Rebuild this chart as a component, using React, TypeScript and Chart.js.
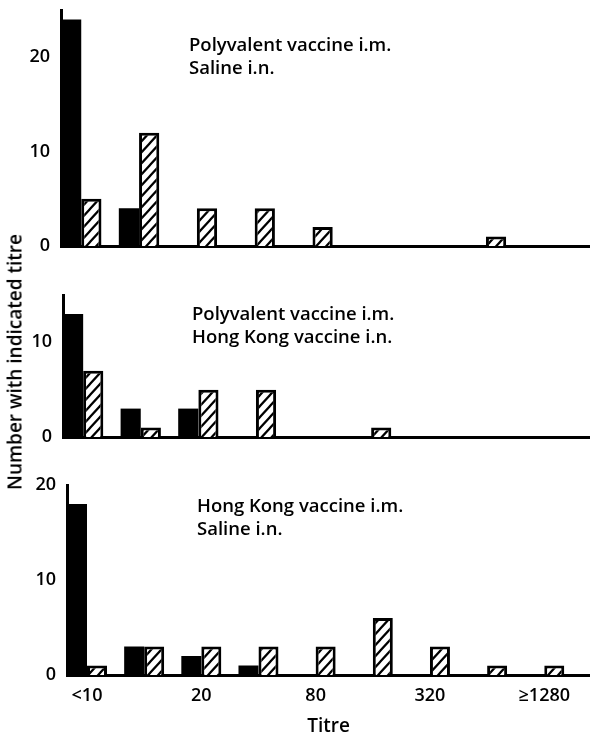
import React, { useEffect, useRef } from "react";
import { Chart, registerables } from "chart.js";

Chart.register(...registerables);

// ---- data ----
const titres = ["<10", "10", "20", "40", "80", "160", "320", "640", "≥1280"];
const shownTickLabels = ["<10", "20", "80", "320", "≥1280"];

const panel1Title = ["Polyvalent vaccine i.m.", "Saline i.n."];
const panel1Solid = [24, 4, 0, 0, 0, 0, 0, 0, 0];
const panel1Hatched = [5, 12, 4, 4, 2, 0, 0, 1, 0];
const panel1YTicks = [0, 10, 20];
const panel1YMax = 25;

const panel2Title = ["Polyvalent vaccine i.m.", "Hong Kong vaccine i.n."];
const panel2Solid = [13, 3, 3, 0, 0, 0, 0, 0, 0];
const panel2Hatched = [7, 1, 5, 5, 0, 1, 0, 0, 0];
const panel2YTicks = [0, 10];
const panel2YMax = 15;

const panel3Title = ["Hong Kong vaccine i.m.", "Saline i.n."];
const panel3Solid = [18, 3, 2, 1, 0, 0, 0, 0, 0];
const panel3Hatched = [1, 3, 3, 3, 3, 6, 3, 1, 1];
const panel3YTicks = [0, 10, 20];
const panel3YMax = 20;

const yAxisTitle = "Number with indicated titre";
const xAxisTitle = "Titre";

const FONT_FAMILY = "'Open Sans', 'DejaVu Sans', sans-serif";

function makeHatch(): CanvasPattern | string {
  const w = 10;
  const h = 11;
  const c = document.createElement("canvas");
  c.width = w;
  c.height = h;
  const ctx = c.getContext("2d");
  if (!ctx) return "#fff";
  ctx.fillStyle = "#fff";
  ctx.fillRect(0, 0, w, h);
  ctx.strokeStyle = "#000";
  ctx.lineWidth = 2.2;
  ctx.beginPath();
  ctx.moveTo(-w, h * 2);
  ctx.lineTo(w * 2, -h);
  ctx.moveTo(-w * 2, h * 2);
  ctx.lineTo(w, -h);
  ctx.moveTo(0, h * 2);
  ctx.lineTo(w * 3, -h);
  ctx.stroke();
  const p = ctx.createPattern(c, "repeat");
  return p || "#fff";
}

const textPlugin = {
  id: "panelText",
  afterDraw(chart: any, _args: any, opts: any) {
    const ctx = chart.ctx;
    ctx.save();
    ctx.font = opts.font;
    ctx.fillStyle = "#000";
    ctx.textBaseline = "middle";
    ctx.textAlign = "left";
    (opts.lines || []).forEach((l: string, i: number) => {
      ctx.fillText(l, opts.x, opts.y + i * opts.gap);
    });
    ctx.restore();
  },
};

type PanelProps = {
  top: number;
  height: number;
  left: number;
  xHeight: number;
  solid: number[];
  hatched: number[];
  yMax: number;
  yTicks: number[];
  title: string[];
  textX: number;
  textY: number;
  showX: boolean;
};

function Panel(p: PanelProps) {
  const ref = useRef<HTMLCanvasElement | null>(null);
  useEffect(() => {
    if (!ref.current) return;
    const hatch = makeHatch();
    const tickFont = { family: FONT_FAMILY, size: 18, weight: "600" as any };
    const chart = new Chart(ref.current, {
      type: "bar",
      data: {
        datasets: [
          {
            label: "Solid",
            data: p.solid.map((v, i) => ({ x: i, y: v })),
            backgroundColor: "#000",
            borderColor: "#000",
            borderWidth: 0,
          },
          {
            label: "Hatched",
            data: p.hatched.map((v, i) => ({ x: i, y: v })),
            backgroundColor: hatch as any,
            borderColor: "#000",
            borderWidth: 3,
          },
        ],
      } as any,
      options: {
        animation: false,
        responsive: false,
        maintainAspectRatio: false,
        layout: { padding: { top: 10, left: 0, right: 0, bottom: 0 } },
        datasets: { bar: { categoryPercentage: 0.7, barPercentage: 1 } },
        plugins: {
          legend: { display: false },
          tooltip: { enabled: false },
          panelText: {
            lines: p.title,
            x: p.textX,
            y: p.textY,
            gap: 23,
            font: `600 18.5px ${FONT_FAMILY}`,
          },
        } as any,
        scales: {
          x: {
            type: "linear",
            offset: false,
            min: -0.35,
            max: 8.8,
            grid: { display: false, drawTicks: false, offset: false },
            border: { display: true, color: "#000", width: 3 },
            afterBuildTicks: (s: any) => {
              s.ticks = titres.map((_, i) => ({ value: i }));
            },
            afterFit: (s: any) => {
              s.height = p.xHeight;
              s.paddingLeft = 0;
              s.paddingRight = 0;
            },
            ticks: {
              display: p.showX,
              autoSkip: false,
              maxRotation: 0,
              padding: 10,
              color: "#000",
              font: tickFont,
              callback: (v: any) => {
                const l = titres[Number(v)];
                return shownTickLabels.includes(l) ? l : "";
              },
            },
            title: {
              display: p.showX,
              text: xAxisTitle,
              color: "#000",
              font: { family: FONT_FAMILY, size: 19, weight: "600" as any, lineHeight: 1 },
              padding: { top: 0, bottom: 0 },
            },
          },
          y: {
            min: 0,
            max: p.yMax,
            afterBuildTicks: (s: any) => {
              s.ticks = p.yTicks.map((v) => ({ value: v }));
            },
            afterFit: (s: any) => {
              s.width = p.left;
              s.paddingTop = 0;
              s.paddingBottom = 0;
            },
            grid: { display: false, drawTicks: false },
            border: { display: true, color: "#000", width: 3 },
            ticks: { padding: 11, color: "#000", font: tickFont },
          },
        },
      } as any,
      plugins: [textPlugin as any],
    });
    return () => chart.destroy();
  }, []);
  return (
    <canvas
      ref={ref}
      width={590}
      height={p.height}
      style={{ position: "absolute", left: 0, top: p.top, width: 590, height: p.height }}
    />
  );
}

export default function App() {
  return (
    <div
      style={{
        position: "absolute",
        left: 0,
        top: 0,
        width: 590,
        height: 736,
        background: "#fff",
        overflow: "hidden",
      }}
    >
      <Panel
        top={0}
        height={260}
        left={61}
        xHeight={14}
        solid={panel1Solid}
        hatched={panel1Hatched}
        yMax={panel1YMax}
        yTicks={panel1YTicks}
        title={panel1Title}
        textX={189}
        textY={46}
        showX={false}
      />
      <Panel
        top={285}
        height={166}
        left={63}
        xHeight={14}
        solid={panel2Solid}
        hatched={panel2Hatched}
        yMax={panel2YMax}
        yTicks={panel2YTicks}
        title={panel2Title}
        textX={192}
        textY={30}
        showX={false}
      />
      <Panel
        top={475}
        height={261}
        left={67}
        xHeight={61}
        solid={panel3Solid}
        hatched={panel3Hatched}
        yMax={panel3YMax}
        yTicks={panel3YTicks}
        title={panel3Title}
        textX={197}
        textY={32}
        showX={true}
      />
      <div
        style={{
          position: "absolute",
          left: 15,
          top: 362,
          transform: "translate(-50%, -50%) rotate(-90deg)",
          whiteSpace: "nowrap",
          fontFamily: FONT_FAMILY,
          fontWeight: 600,
          fontSize: 19,
          color: "#000",
          lineHeight: 1,
        }}
      >
        {yAxisTitle}
      </div>
    </div>
  );
}
